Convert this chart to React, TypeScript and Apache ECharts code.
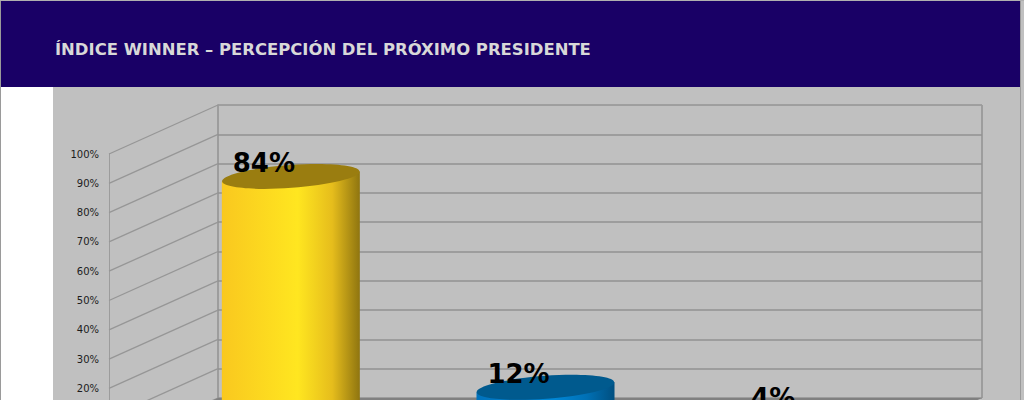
import React, { useEffect, useRef } from "react";
import * as echarts from "echarts";

const titleText = "ÍNDICE WINNER – PERCEPCIÓN DEL PRÓXIMO PRESIDENTE";
const categories = ["A", "B", "C"];
const values = [84, 12, 4];
const barSide = [
  ["#f9c81f", "#ffe620", "#e6bd1c", "#8f7510"],
  ["#0072bc", "#0088d8", "#0070b4", "#004f80"],
  ["#808080", "#808080", "#808080", "#808080"],
];
const barTop = ["#9a7d10", "#005a8e", "#808080"];
const tickValues = [0, 10, 20, 30, 40, 50, 60, 70, 80, 90, 100];
const firstShownTick = 20;

const BACK = { left: 218, top: 105, width: 764, height: 293 };
const DEPTH_X = 109;
const DEPTH_Y = 49;

export default function App() {
  const ref = useRef<HTMLDivElement>(null);
  useEffect(() => {
    document.body.style.margin = "0";
    const chart = echarts.init(ref.current!, null, { renderer: "svg" });
    const gridColor = "#929292";
    const option: any = {
      animation: false,
      backgroundColor: "#fff",
      graphic: [
        { type: "rect", z: -10, shape: { x: 53, y: 87, width: 971, height: 373 }, style: { fill: "#c0c0c0" } },
        { type: "rect", z: -9, shape: { x: 1020, y: 0, width: 1, height: 460 }, style: { fill: "#9a9a9a" } },
        { type: "rect", z: -9, shape: { x: 0, y: 0, width: 1, height: 460 }, style: { fill: "#9a9a9a" } },
        { type: "rect", z: -8, shape: { x: 1021, y: 0, width: 3, height: 87 }, style: { fill: "#c0c0c0" } },
        { type: "rect", z: -8, shape: { x: 0, y: 0, width: 1024, height: 1 }, style: { fill: "#b0b0b0" } },
        { type: "rect", z: -7, shape: { x: 1, y: 1, width: 1019, height: 86 }, style: { fill: "#190066" } },
        {
          type: "text", z: 10, x: 55, y: 49,
          style: {
            text: titleText, fill: "#d8d8d8", fontFamily: "DejaVu Sans", fontWeight: "bold",
            fontSize: 16.46, verticalAlign: "middle", textAlign: "left",
          },
        },
      ],
      grid: [
        { left: BACK.left, top: BACK.top, width: BACK.width, height: BACK.height, show: false },
        { left: BACK.left - DEPTH_X, top: BACK.top + DEPTH_Y, width: BACK.width, height: BACK.height, show: false },
        { left: BACK.left - DEPTH_X / 2, top: BACK.top + DEPTH_Y / 2, width: BACK.width, height: BACK.height, show: false },
      ],
      xAxis: [0, 1, 2].map((i) => ({
        type: "category",
        gridIndex: i,
        data: categories,
        axisLine: { show: false },
        axisTick: { show: false },
        axisLabel: { show: false },
      })),
      yAxis: [
        {
          type: "value", gridIndex: 0, min: 0, max: 100, interval: 10,
          axisLine: { show: true, lineStyle: { color: gridColor, width: 1.5 } },
          axisTick: { show: false }, axisLabel: { show: false },
          splitLine: { show: true, lineStyle: { color: gridColor, width: 1.5 } },
        },
        {
          type: "value", gridIndex: 1, min: 0, max: 100, interval: 10,
          axisLine: { show: true, lineStyle: { color: "#9c9c9c", width: 1 } },
          axisTick: { show: false },
          splitLine: { show: false },
          axisLabel: {
            margin: 10, fontSize: 10, color: "#1c1c1c", fontFamily: "DejaVu Sans",
            formatter: (v: number) => (v < firstShownTick ? "" : v + "%"),
          },
        },
        {
          type: "value", gridIndex: 2, min: 0, max: 100, interval: 10,
          axisLine: { show: false }, axisTick: { show: false }, axisLabel: { show: false }, splitLine: { show: false },
        },
      ],
      series: [
        {
          // side-wall depth lines, one for each tick of the value axis
          type: "custom", xAxisIndex: 0, yAxisIndex: 0, z: 1, clip: false, silent: true,
          data: tickValues.map((v) => [0, v]),
          encode: { x: 0, y: 1 },
          renderItem: (_: any, api: any) => {
            const y = api.coord([0, api.value(1)])[1];
            return {
              type: "line",
              shape: { x1: BACK.left, y1: y, x2: BACK.left - DEPTH_X, y2: y + DEPTH_Y },
              style: { stroke: "#969696", lineWidth: 1.3 },
            };
          },
        },
        {
          // right edge of the back wall, its top edge and the floor
          type: "custom", xAxisIndex: 0, yAxisIndex: 0, z: 1, clip: false, silent: true,
          data: [[0, 0]],
          encode: { x: 0, y: 1 },
          renderItem: (_: any, api: any) => {
            const y0 = api.coord([0, 0])[1];
            const y1 = api.coord([0, 100])[1];
            const xr = BACK.left + BACK.width;
            return {
              type: "group",
              children: [
                { type: "line", shape: { x1: xr, y1: y0, x2: xr, y2: y1 }, style: { stroke: gridColor, lineWidth: 1.5 } },
                { type: "line", shape: { x1: BACK.left, y1: y1, x2: xr, y2: y1 }, style: { stroke: "#a0a0a0", lineWidth: 1 } },
                {
                  type: "polygon",
                  shape: { points: [[BACK.left, y0], [xr, y0], [xr - DEPTH_X, y0 + DEPTH_Y], [BACK.left - DEPTH_X, y0 + DEPTH_Y]] },
                  style: { fill: "#808080" },
                },
              ],
            };
          },
        },
        {
          type: "custom", xAxisIndex: 2, yAxisIndex: 2, z: 3, clip: false, silent: true,
          data: categories.map((c, i) => [i, values[i]]),
          encode: { x: 0, y: 1 },
          renderItem: (params: any, api: any) => {
            const idx = params.dataIndex;
            const [cx, cy] = api.coord([idx, api.value(1)]);
            const base = api.coord([idx, 0])[1];
            const rx = 69;
            const ry = 11.5;
            const tilt = 5;
            const [c0, c1, c2, c3] = barSide[idx];
            return {
              type: "group",
              children: [
                {
                  type: "polygon",
                  shape: { points: [[cx - rx, cy + tilt], [cx + rx, cy - tilt], [cx + rx, base + ry], [cx - rx, base + ry]] },
                  style: {
                    fill: new echarts.graphic.LinearGradient(0, 0, 1, 0, [
                      { offset: 0, color: c0 },
                      { offset: 0.55, color: c1 },
                      { offset: 0.8, color: c2 },
                      { offset: 1, color: c3 },
                    ]),
                  },
                },
                {
                  type: "ellipse",
                  shape: { cx: 0, cy: 0, rx, ry },
                  x: cx, y: cy,
                  rotation: Math.atan2(2 * tilt, 2 * rx),
                  style: { fill: barTop[idx] },
                },
                {
                  type: "text",
                  x: cx - 27, y: cy - 13,
                  style: {
                    text: api.value(1) + "%", fill: "#000", fontFamily: "DejaVu Sans", fontWeight: "bold",
                    fontSize: 26, textAlign: "center", verticalAlign: "middle",
                  },
                },
              ],
            };
          },
        },
      ],
    };
    chart.setOption(option);
    return () => chart.dispose();
  }, []);
  return (
    <div style={{ width: 1024, height: 400, overflow: "hidden" }}>
      <div ref={ref} style={{ width: 1024, height: 460 }} />
    </div>
  );
}
